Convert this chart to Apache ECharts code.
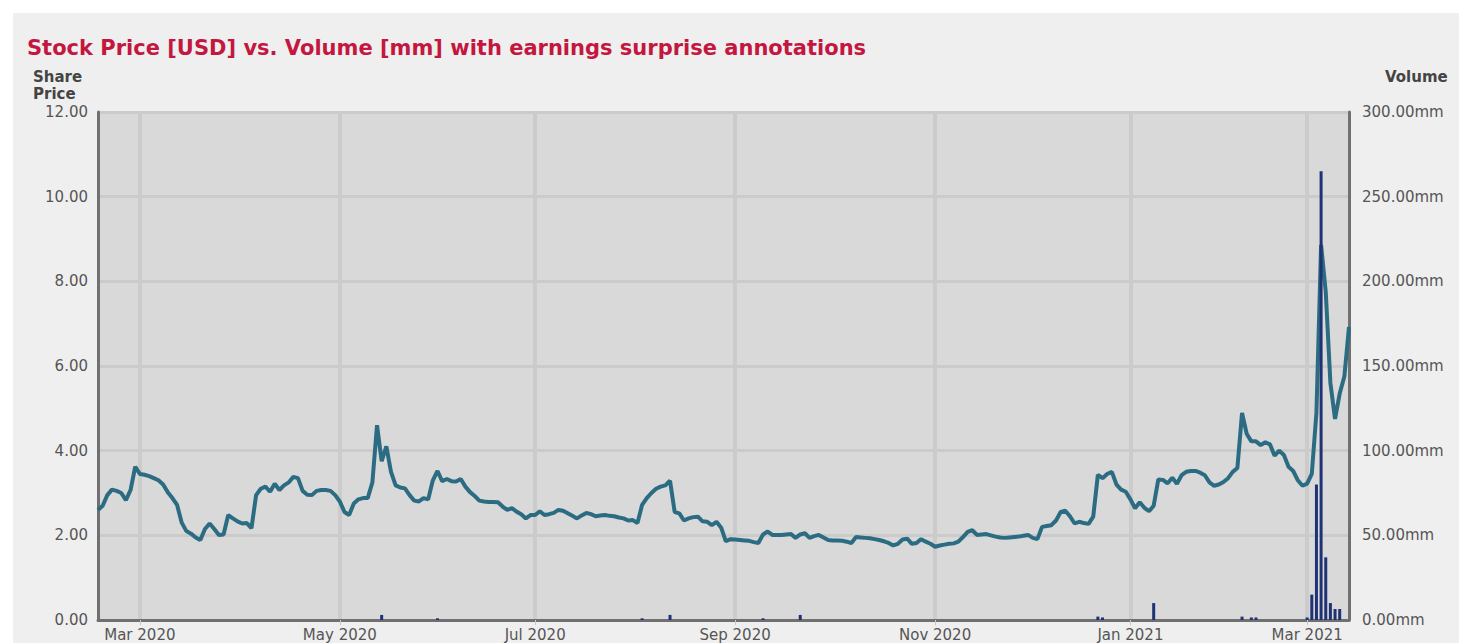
<!DOCTYPE html>
<html lang="en">
<head>
    <meta charset="UTF-8">
    <title>Stock Price vs. Volume</title>
    <script src="https://cdn.jsdelivr.net/npm/echarts@6.0.0/dist/echarts.min.js"></script>
    <style>
        html, body {
            margin: 0;
            padding: 0;
            background: #fff;
        }
        #chart {
            position: absolute;
            left: 13px;
            top: 13px;
            width: 1446px;
            height: 630px;
            background: #efefef;
        }
    </style>
</head>
<body>
<div id="chart"></div>
<script>
    // trading calendar
    var startDate = "2020-02-18";
    var endDate = "2021-03-12";
    var holidays = ["2020-04-10", "2020-05-25", "2020-07-03", "2020-09-07", "2020-11-26",
        "2020-12-25", "2021-01-01", "2021-01-18", "2021-02-15"];
    var monthNames = ["Jan", "Feb", "Mar", "Apr", "May", "Jun", "Jul", "Aug", "Sep", "Oct", "Nov", "Dec"];

    // share price, one value per trading day
    var price = [
        2.60, 2.70, 2.95, 3.08, 3.05, 3.00, 2.83, 3.07, 3.62, 3.45,
        3.43, 3.40, 3.35, 3.30, 3.20, 3.02, 2.88, 2.72, 2.30, 2.10,
        2.04, 1.95, 1.89, 2.15, 2.28, 2.15, 2.01, 2.02, 2.48, 2.40,
        2.33, 2.28, 2.29, 2.17, 2.95, 3.10, 3.15, 3.03, 3.22, 3.07,
        3.18, 3.25, 3.38, 3.35, 3.05, 2.96, 2.95, 3.05, 3.07, 3.07,
        3.05, 2.95, 2.80, 2.55, 2.48, 2.75, 2.85, 2.88, 2.88, 3.25,
        4.60, 3.75, 4.10, 3.50, 3.18, 3.13, 3.11, 2.95, 2.82, 2.80,
        2.88, 2.85, 3.30, 3.52, 3.28, 3.33, 3.28, 3.27, 3.33, 3.15,
        3.02, 2.93, 2.82, 2.80, 2.79, 2.79, 2.78, 2.68, 2.60, 2.64,
        2.56, 2.50, 2.40, 2.48, 2.48, 2.57, 2.48, 2.50, 2.53, 2.60,
        2.58, 2.52, 2.46, 2.40, 2.47, 2.53, 2.50, 2.45, 2.47, 2.48,
        2.46, 2.45, 2.42, 2.40, 2.35, 2.36, 2.29, 2.72, 2.88, 3.00,
        3.10, 3.15, 3.18, 3.29, 2.55, 2.52, 2.35, 2.40, 2.43, 2.44,
        2.33, 2.32, 2.24, 2.32, 2.18, 1.86, 1.91, 1.90, 1.89, 1.88,
        1.87, 1.84, 1.82, 2.02, 2.09, 2.01, 2.01, 2.01, 2.02, 2.03,
        1.94, 2.02, 2.05, 1.94, 1.98, 2.01, 1.95, 1.89, 1.88, 1.88,
        1.87, 1.85, 1.82, 1.96, 1.95, 1.94, 1.93, 1.91, 1.89, 1.86,
        1.82, 1.76, 1.80, 1.90, 1.92, 1.80, 1.82, 1.91, 1.85, 1.80,
        1.73, 1.76, 1.78, 1.80, 1.81, 1.85, 1.96, 2.08, 2.12, 2.01,
        2.02, 2.03, 2.00, 1.97, 1.95, 1.94, 1.95, 1.96, 1.97, 1.99,
        2.01, 1.94, 1.91, 2.20, 2.22, 2.24, 2.35, 2.55, 2.58, 2.45,
        2.28, 2.32, 2.29, 2.27, 2.44, 3.43, 3.35, 3.45, 3.50, 3.20,
        3.08, 3.03, 2.85, 2.64, 2.78, 2.65, 2.57, 2.70, 3.32, 3.31,
        3.23, 3.36, 3.22, 3.42, 3.50, 3.52, 3.52, 3.48, 3.42, 3.25,
        3.17, 3.20, 3.26, 3.35, 3.50, 3.59, 4.89, 4.40, 4.22, 4.22,
        4.13, 4.20, 4.15, 3.88, 4.00, 3.90, 3.62, 3.52, 3.30, 3.17,
        3.22, 3.45, 4.90, 8.86, 7.75, 5.60, 4.75, 5.35, 5.75, 6.92
    ];

    // volume [mm], only days with a visible bar
    var volDates = ["2020-05-14", "2020-06-02", "2020-08-04", "2020-08-12", "2020-09-10", "2020-09-22",
        "2020-12-22", "2020-12-23", "2021-01-11", "2021-02-08", "2021-02-10", "2021-02-11",
        "2021-03-01", "2021-03-02", "2021-03-03", "2021-03-04", "2021-03-05", "2021-03-08",
        "2021-03-09", "2021-03-10"];
    var volValues = [3, 1, 1, 3, 1, 3,
        2, 1.5, 10, 2, 1.5, 1.5,
        1.5, 15, 80, 265, 37, 10,
        6.5, 6.5];

    var days = [];
    var d = new Date(startDate + "T00:00:00Z");
    var end = new Date(endDate + "T00:00:00Z");
    while (d <= end) {
        var wd = d.getUTCDay();
        var s = d.toISOString().slice(0, 10);
        if (wd !== 0 && wd !== 6 && holidays.indexOf(s) < 0) {
            days.push(s);
        }
        d.setUTCDate(d.getUTCDate() + 1);
    }

    var volData = volDates.map(function (dt, i) {
        return [days.indexOf(dt), volValues[i]];
    });

    // first trading day of Jan, Mar, May, ...
    function isLabelDay(idx, val) {
        if (idx === 0) return false;
        var m = parseInt(days[idx].slice(5, 7), 10);
        return days[idx - 1].slice(5, 7) !== days[idx].slice(5, 7) && m % 2 === 1;
    }

    var font = "DejaVu Sans";
    var myChart = echarts.init(document.getElementById("chart"), null, {renderer: "svg"});
    myChart.setOption({
        animation: false,
        backgroundColor: "#efefef",
        title: {
            text: "Stock Price [USD] vs. Volume [mm] with earnings surprise annotations",
            left: 14,
            top: 24,
            padding: 0,
            textStyle: {
                color: "#c4173f",
                fontFamily: font,
                fontWeight: "bold",
                fontSize: 21
            }
        },
        graphic: [{
            type: "text",
            left: 20,
            top: 56,
            style: {
                text: "Share",
                font: "bold 15px " + font,
                fill: "#444"
            }
        }, {
            type: "text",
            left: 20,
            top: 73,
            style: {
                text: "Price",
                font: "bold 15px " + font,
                fill: "#444"
            }
        }, {
            type: "text",
            left: 1372,
            top: 56,
            style: {
                text: "Volume",
                font: "bold 15px " + font,
                fill: "#444"
            }
        }],
        grid: {
            left: 85,
            right: 110,
            top: 99,
            bottom: 23,
            show: true,
            backgroundColor: "#d9d9d9",
            borderWidth: 0,
            containLabel: false,
            outerBoundsMode: "none"
        },
        xAxis: {
            type: "category",
            data: days,
            boundaryGap: false,
            axisLine: {lineStyle: {color: "#707070", width: 3}},
            axisTick: {
                show: true,
                interval: isLabelDay,
                length: 5,
                lineStyle: {color: "#c8c8c8", width: 1}
            },
            axisLabel: {
                interval: isLabelDay,
                formatter: function (val) {
                    return monthNames[parseInt(val.slice(5, 7), 10) - 1] + " " + val.slice(0, 4);
                },
                color: "#555",
                fontFamily: font,
                fontSize: 15,
                margin: 7
            },
            splitLine: {
                show: true,
                interval: isLabelDay,
                lineStyle: {color: "#cbcbcb", width: 4}
            }
        },
        yAxis: [{
            type: "value",
            min: 0,
            max: 12,
            interval: 2,
            axisLine: {show: true, lineStyle: {color: "#707070", width: 3}},
            axisTick: {show: false},
            axisLabel: {
                formatter: function (v) { return v.toFixed(2); },
                color: "#555",
                fontFamily: font,
                fontSize: 15,
                margin: 10
            },
            splitLine: {show: true, lineStyle: {color: "#cbcbcb", width: 3}}
        }, {
            type: "value",
            min: 0,
            max: 300,
            interval: 50,
            position: "right",
            axisLine: {show: true, lineStyle: {color: "#707070", width: 3}},
            axisTick: {show: false},
            axisLabel: {
                formatter: function (v) { return v.toFixed(2) + "mm"; },
                color: "#555",
                fontFamily: font,
                fontSize: 15,
                margin: 13
            },
            splitLine: {show: false}
        }],
        series: [{
            name: "Share Price",
            type: "line",
            data: price,
            yAxisIndex: 0,
            symbol: "none",
            lineStyle: {color: "#2c6c82", width: 4},
            z: 3
        }, {
            name: "Volume",
            type: "bar",
            data: volData,
            yAxisIndex: 1,
            barWidth: 3,
            itemStyle: {color: "#1f3274"},
            z: 4
        }]
    });
</script>
</body>
</html>
